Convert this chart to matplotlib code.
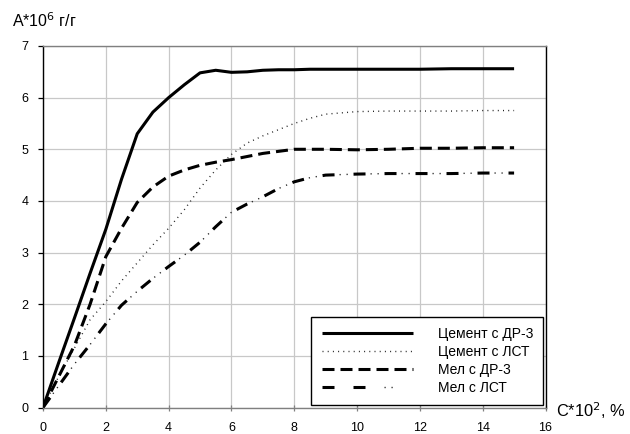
import matplotlib
matplotlib.use("Agg")
import matplotlib.pyplot as plt
from matplotlib.legend_handler import HandlerTuple

plt.rcParams['font.family'] = ['Liberation Sans', 'DejaVu Sans']
plt.rcParams['lines.scale_dashes'] = False

# ---- data ----
x = [0, 0.5, 1, 1.5, 2, 2.5, 3, 3.5, 4, 4.5, 5, 5.5, 6, 6.5, 7, 7.5, 8, 8.5, 9,
     10, 11, 12, 13, 14, 15]
cement_dr3 = [0, 0.87, 1.73, 2.6, 3.45, 4.42, 5.3, 5.72, 6.0, 6.25, 6.48, 6.53,
              6.49, 6.5, 6.53, 6.54, 6.54, 6.55, 6.55, 6.55, 6.55, 6.55, 6.56,
              6.56, 6.56]
cement_lst = [0, 0.6, 1.15, 1.7, 2.05, 2.45, 2.8, 3.15, 3.47, 3.83, 4.25, 4.6,
              4.9, 5.12, 5.26, 5.38, 5.5, 5.6, 5.68, 5.73, 5.74, 5.74, 5.74,
              5.75, 5.75]
chalk_dr3 = [0, 0.6, 1.2, 2.0, 2.92, 3.47, 3.97, 4.27, 4.48, 4.6, 4.69, 4.75,
             4.8, 4.86, 4.92, 4.96, 5.0, 5.0, 5.0, 4.99, 5.0, 5.02, 5.02, 5.03,
             5.03]
chalk_lst = [0, 0.42, 0.84, 1.22, 1.62, 1.98, 2.25, 2.5, 2.73, 2.95, 3.2, 3.5,
             3.78, 3.94, 4.08, 4.24, 4.37, 4.45, 4.5, 4.52, 4.53, 4.53, 4.53,
             4.54, 4.54]
labels = ["Цемент с ДР-3", "Цемент с ЛСТ", "Мел с ДР-3", "Мел с ЛСТ"]
xticks = [0, 2, 4, 6, 8, 10, 12, 14, 16]
yticks = [0, 1, 2, 3, 4, 5, 6, 7]

PX = 0.72  # points per pixel at dpi 100

fig = plt.figure(figsize=(6.3, 4.34), dpi=100)
ax = fig.add_axes([43 / 630, 1 - 407.5 / 434, (545.5 - 43) / 630, (407.5 - 46) / 434])

h1, = ax.plot(x, cement_dr3, color='black', lw=2.2, solid_joinstyle='round',
              solid_capstyle='butt')
h2, = ax.plot(x, cement_lst, color='#222222', lw=1.0,
              linestyle=(0, (1 * PX, 4.2 * PX)))
h3, = ax.plot(x, chalk_dr3, color='black', lw=2.2,
              linestyle=(0, (12 * PX, 6 * PX)))
h4a, = ax.plot(x, chalk_lst, color='black', lw=2.2,
               linestyle=(0, (12 * PX, 19 * PX)))
h4b, = ax.plot(x, chalk_lst, color='#222222', lw=1.0,
               linestyle=(14 * PX, (1.2 * PX, 5.8 * PX, 1.2 * PX, 22.8 * PX)))

ax.set_xlim(0, 16)
ax.set_ylim(0, 7)
ax.set_xticks(xticks)
ax.set_yticks(yticks)
ax.grid(True, color='#c8c8c8', lw=0.9)
ax.set_axisbelow(True)

for side, col in [('left', 'black'), ('right', 'black'),
                  ('top', '#808080'), ('bottom', '#808080')]:
    ax.spines[side].set_color(col)
    ax.spines[side].set_linewidth(1.0)

ax.tick_params(axis='x', direction='inout', length=5, width=0.9, color='#808080',
               labelsize=9, pad=8)
ax.tick_params(axis='y', direction='out', length=3.5, width=0.9, color='black',
               labelsize=9, pad=7)

leg = ax.legend([h1, h2, h3, (h4a, h4b)], labels,
                handler_map={tuple: HandlerTuple(ndivide=None, pad=0)},
                loc='lower right', bbox_to_anchor=(1, 0), borderaxespad=0.15,
                fontsize=10, handlelength=6.6, handletextpad=1.75,
                labelspacing=0.28, borderpad=0.75, frameon=True, fancybox=False,
                framealpha=1, edgecolor='black')
leg.get_frame().set_linewidth(1.0)

fig.text(12 / 630, 1 - 21 / 434, r"A*10$^{6}$ г/г", fontsize=11.5,
         ha='left', va='center')
fig.text(556 / 630, 1 - 411 / 434, r"C*10$^{2}$, %", fontsize=11.8,
         ha='left', va='center')

fig.savefig("out.png", dpi=100)
